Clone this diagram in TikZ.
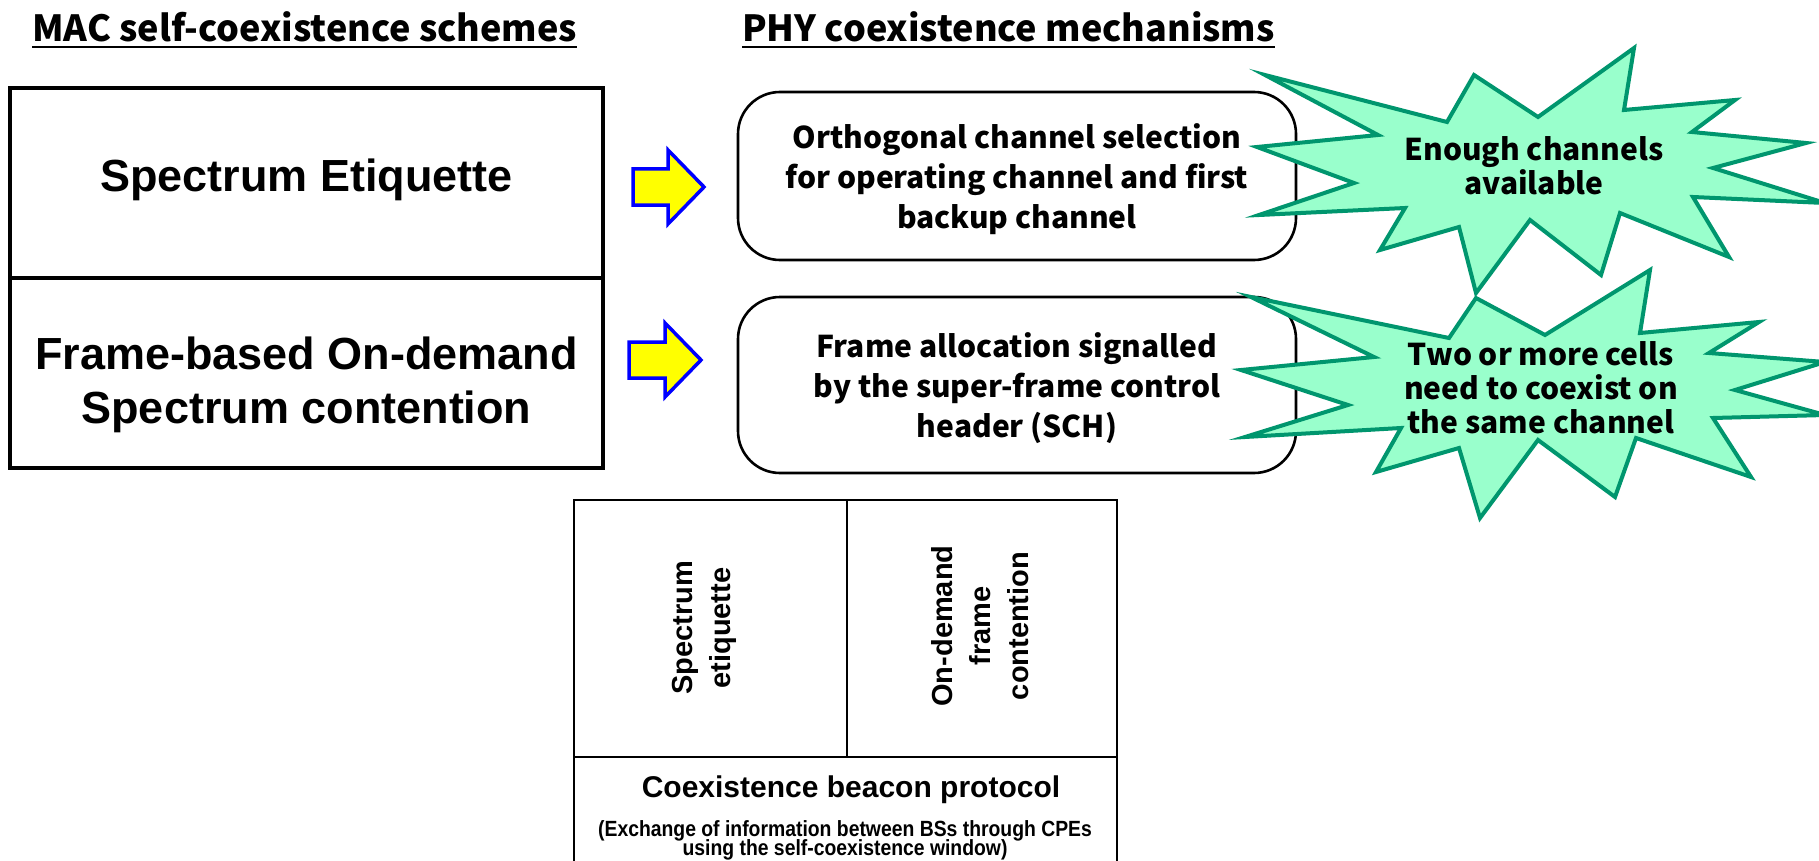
\documentclass[tikz,border=0pt]{standalone}
\usepackage{fontspec}
\setmainfont{Liberation Sans}
\newfontfamily\kr{Noto Sans CJK KR}
\newfontfamily\narrowf{Liberation Sans}[FakeStretch=0.88]
\newcommand\tightlines{\lineskiplimit=-30pt\relax}
\definecolor{starfill}{RGB}{153,255,204}
\definecolor{starline}{RGB}{0,150,110}
\definecolor{arrowblue}{RGB}{0,0,255}
\definecolor{arrowyellow}{RGB}{255,255,0}
\begin{document}
\begin{tikzpicture}[x=1pt,y=-1pt,
  title/.style={inner sep=0pt, anchor=base west, font=\kr\bfseries\fontsize{36}{42}\selectfont},
  macbox/.style={draw, line width=4pt, minimum width=593pt, minimum height=190pt, inner sep=0pt},
  mactext/.style={align=center, inner sep=0pt, font=\bfseries\fontsize{45}{54}\selectfont},
  phybox/.style={draw, line width=2.6pt, rounded corners=42pt, minimum width=558pt, inner sep=0pt},
  phytext/.style={align=center, inner sep=0pt, font=\kr\bfseries\fontsize{30}{40}\selectfont},
  blockarrow/.style={draw=arrowblue, fill=arrowyellow, line width=3.5pt, line join=miter},
  burst/.style={draw=starline, fill=starfill, line width=4pt, line join=miter},
  bursttext/.style={align=center, inner sep=0pt, font=\kr\bfseries\fontsize{30}{34}\selectfont},
  cell/.style={draw, line width=2.6pt, inner sep=0pt},
  rottext/.style={rotate=90, align=center, inner sep=0pt, font=\bfseries\fontsize{29}{38}\selectfont}
]
\useasboundingbox (0,0) rectangle (1819,861);
\clip (0,0) rectangle (1819,861);
\fill[white] (0,0) rectangle (1819,861);

% titles
\node[title] (t1) at (32,42) {MAC self-coexistence schemes};
\node[title] (t2) at (742,42) {PHY coexistence mechanisms};
\draw[line width=2pt] ([yshift=-5pt]t1.base west) -- ([yshift=-5pt]t1.base east);
\draw[line width=2pt] ([yshift=-5pt]t2.base west) -- ([yshift=-5pt]t2.base east);

% MAC boxes
\node[macbox] (se) at (306.5,183) {};
\node[macbox] (fb) at (306.5,373) {};
\node[mactext] (set) at (306.5,180) {Spectrum Etiquette};
\node[mactext] (fbt) at (306.5,385) {Frame-based On-demand\\Spectrum contention};

% PHY boxes
\node[phybox, minimum height=168pt] (oc) at (1017,176) {};
\node[phybox, minimum height=176pt] (fa) at (1017,385) {};
\node[phytext] (oct) at (1017,179) {Orthogonal channel selection\\for operating channel and first\\backup channel};
\node[phytext] (fat) at (1017,388) {Frame allocation signalled\\by the super-frame control\\header (SCH)};

% block arrows
\draw[blockarrow] (633,169) -- (668,169) -- (668,150) -- (704,187) -- (668,224) -- (668,205) -- (633,205) -- cycle;
\draw[blockarrow] (629,342) -- (665,342) -- (665,323) -- (701,360) -- (665,397) -- (665,378) -- (629,378) -- cycle;

% bursts
\draw[burst] (1265,75) -- (1447,122) -- (1474,75) -- (1538,117) -- (1634,48) -- (1624,110) -- (1735,100)
  -- (1692,132) -- (1806,143) -- (1713,168) -- (1825,203) -- (1693,197) -- (1729,257) -- (1620,213)
  -- (1601,275) -- (1530,220) -- (1476,293) -- (1459,227) -- (1380,250) -- (1405,208) -- (1259,215)
  -- (1354,183) -- (1257,147) -- (1378,135) -- cycle;
\node[bursttext] (b1) at (1534,166) {Enough channels\\available};

\draw[burst] (1251,297) -- (1449,338) -- (1476,298) -- (1545,335) -- (1650,270) -- (1640,333) -- (1759,322)
  -- (1709,353) -- (1825,362) -- (1735,390) -- (1825,415) -- (1713,418) -- (1751,477) -- (1636,438)
  -- (1615,497) -- (1538,440) -- (1480,518) -- (1459,448) -- (1376,472) -- (1401,428) -- (1245,437)
  -- (1348,405) -- (1241,370) -- (1374,357) -- cycle;
\node[bursttext] (b2) at (1541,388) {Two or more cells\\need to coexist on\\the same channel};

% bottom table
\node[cell, minimum width=273pt, minimum height=257pt] (c1) at (710.5,628.5) {};
\node[cell, minimum width=270pt, minimum height=257pt] (c2) at (982,628.5) {};
\node[cell, minimum width=543pt, minimum height=140pt] (c3) at (845.5,827) {};
\node[rottext] (r1) at (704,628) {Spectrum\\etiquette};
\node[rottext] (r2) at (980,626) {On-demand\\frame\\contention};
\node[inner sep=0pt, anchor=base, font=\bfseries\fontsize{30}{34}\selectfont] (cb) at (851,797) {Coexistence beacon protocol};
\node[inner sep=0pt, anchor=base, align=center, font=\narrowf\bfseries\fontsize{22}{19}\selectfont\tightlines] (ex) at (845,855)
  {(Exchange of information between BSs through CPEs\\using the self-coexistence window)};
\end{tikzpicture}
\end{document}
